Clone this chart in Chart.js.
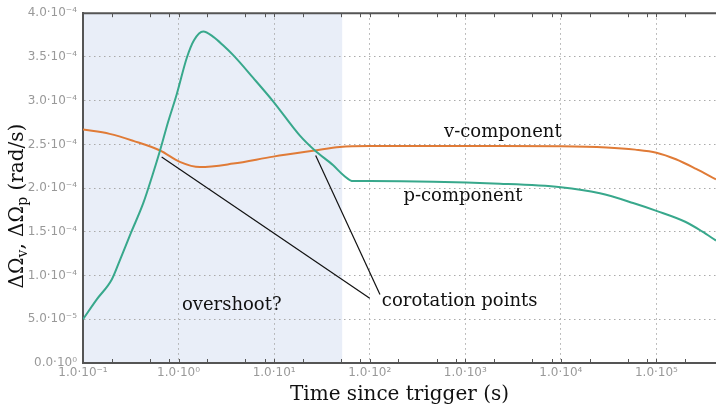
<!DOCTYPE html>
<html>
<head>
<meta charset="utf-8">
<script src="https://cdn.jsdelivr.net/npm/chart.js@4"></script>
<style>
  html, body { margin: 0; padding: 0; background: #fff; }
</style>
</head>
<body>
<canvas id="grafico" width="716" height="407"></canvas>
<script>
// p-component (teal)
const tiempoP = [0.1, 0.14, 0.2, 0.244, 0.318, 0.428, 0.527, 0.64, 0.774, 0.955, 1.22, 1.45, 1.81, 2.31, 2.94, 3.73, 6.04, 9.8, 18.6, 26.7, 41.5, 52.8, 67.1, 100, 2300, 1e4, 2.56e4, 5.7e4, 1e5, 2e5, 3e5, 4.2e5];
const valorP = [5.0e-5, 7.3e-5, 9.55e-5, 1.18e-4, 1.49e-4, 1.83e-4, 2.13e-4, 2.43e-4, 2.75e-4, 3.07e-4, 3.49e-4, 3.69e-4, 3.79e-4, 3.73e-4, 3.63e-4, 3.52e-4, 3.26e-4, 2.99e-4, 2.60e-4, 2.43e-4, 2.26e-4, 2.15e-4, 2.08e-4, 2.08e-4, 2.05e-4, 2.01e-4, 1.94e-4, 1.83e-4, 1.74e-4, 1.615e-4, 1.505e-4, 1.40e-4];

// v-component (orange)
const tiempoV = [0.1, 0.19, 0.336, 0.64, 1.03, 1.67, 3.73, 9.8, 26.7, 48.7, 100, 2300, 1e4, 3e4, 6e4, 1e5, 1.6e5, 2.6e5, 4.2e5];
const valorV = [2.67e-4, 2.62e-4, 2.54e-4, 2.43e-4, 2.30e-4, 2.24e-4, 2.28e-4, 2.36e-4, 2.43e-4, 2.47e-4, 2.48e-4, 2.48e-4, 2.478e-4, 2.465e-4, 2.44e-4, 2.405e-4, 2.33e-4, 2.22e-4, 2.10e-4];

// ejes
const ticksX = [0.1, 1, 10, 100, 1000, 1e4, 1e5];
const menoresX = [2, 5, 8];
const ticksY = [0, 5e-5, 1e-4, 1.5e-4, 2e-4, 2.5e-4, 3e-4, 3.5e-4, 4e-4];
const rangoX = [0.1, 4.2e5];
const zonaSombreada = [0.1, 51.5];

// anotaciones (en unidades de datos)
const textos = [
  { texto: "v-component", x: 2470, y: 2.64e-4, align: "center" },
  { texto: "p-component", x: 945, y: 1.91e-4, align: "center" },
  { texto: "overshoot?", x: 3.6, y: 6.6e-5, align: "center" },
  { texto: "corotation points", x: 134, y: 7.1e-5, align: "left" },
];
const flechas = [
  { desde: [0.665, 2.356e-4], hasta: [100, 7.4e-5] },
  { desde: [27.2, 2.374e-4], hasta: [128, 7.83e-5] },
];

const SERIF = "'DejaVu Serif', serif";
const sup = { "-": "⁻", "0": "⁰", "1": "¹", "2": "²", "3": "³", "4": "⁴", "5": "⁵", "6": "⁶", "7": "⁷", "8": "⁸", "9": "⁹" };

function etiqueta(v) {
  if (v === 0) return "0.0·10⁰";
  const e = Math.floor(Math.log10(v) + 1e-9);
  const m = v / Math.pow(10, e);
  return m.toFixed(1) + "·10" + String(e).split("").map((c) => sup[c]).join("");
}

const decoracion = {
  id: "decoracion",
  beforeDraw(chart) {
    const { ctx, chartArea: a, scales: { x } } = chart;
    const x0 = x.getPixelForValue(zonaSombreada[0]);
    const x1 = x.getPixelForValue(zonaSombreada[1]);
    ctx.save();
    ctx.fillStyle = "#e9eef8";
    ctx.fillRect(x0, a.top, x1 - x0, a.bottom - a.top);
    ctx.restore();
  },
  afterDatasetsDraw(chart) {
    const { ctx, scales: { x, y } } = chart;
    ctx.save();
    ctx.strokeStyle = "#111";
    ctx.lineWidth = 1.2;
    flechas.forEach((f) => {
      ctx.beginPath();
      ctx.moveTo(x.getPixelForValue(f.desde[0]), y.getPixelForValue(f.desde[1]));
      ctx.lineTo(x.getPixelForValue(f.hasta[0]), y.getPixelForValue(f.hasta[1]));
      ctx.stroke();
    });
    ctx.fillStyle = "#111";
    ctx.font = "18px " + SERIF;
    ctx.textBaseline = "middle";
    textos.forEach((t) => {
      ctx.textAlign = t.align;
      ctx.fillText(t.texto, x.getPixelForValue(t.x), y.getPixelForValue(t.y));
    });
    ctx.restore();
  },
  afterDraw(chart) {
    const { ctx, chartArea: a, scales: { x } } = chart;
    ctx.save();
    // borde superior
    ctx.strokeStyle = "#555";
    ctx.lineWidth = 2;
    ctx.beginPath();
    ctx.moveTo(a.left, a.top);
    ctx.lineTo(a.right, a.top);
    ctx.stroke();
    // marcas menores y mayores
    ctx.lineWidth = 1;
    ticksX.forEach((d) => {
      [1].concat(menoresX).forEach((m) => {
        const v = d * m;
        if (v > rangoX[1]) return;
        const px = Math.round(x.getPixelForValue(v)) + 0.5;
        ctx.beginPath();
        ctx.moveTo(px, a.bottom);
        ctx.lineTo(px, a.bottom - 4);
        ctx.moveTo(px, a.top);
        ctx.lineTo(px, a.top + 4);
        ctx.stroke();
      });
    });
    // titulo eje y con subindices
    const partes = [
      ["ΔΩ", false], ["v", true], [", ΔΩ", false], ["p", true], [" (rad/s)", false],
    ];
    const fuente = "20px " + SERIF;
    const fuenteSub = "14px " + SERIF;
    let ancho = 0;
    partes.forEach((p) => {
      ctx.font = p[1] ? fuenteSub : fuente;
      ancho += ctx.measureText(p[0]).width;
    });
    ctx.translate(18, (a.top + a.bottom) / 2 + 18);
    ctx.rotate(-Math.PI / 2);
    ctx.fillStyle = "#111";
    ctx.textBaseline = "middle";
    ctx.textAlign = "left";
    let cx = -ancho / 2;
    partes.forEach((p) => {
      ctx.font = p[1] ? fuenteSub : fuente;
      ctx.fillText(p[0], cx, p[1] ? 5 : 0);
      cx += ctx.measureText(p[0]).width;
    });
    ctx.restore();
  },
};

const ctx = document.getElementById("grafico").getContext("2d");
const chart = new Chart(ctx, {
  type: "line",
  data: {
    datasets: [
      {
        label: "p-component",
        data: tiempoP.map((t, i) => ({ x: t, y: valorP[i] })),
        borderColor: "#38a88c",
        borderWidth: 2,
        pointRadius: 0,
        cubicInterpolationMode: "monotone",
      },
      {
        label: "v-component",
        data: tiempoV.map((t, i) => ({ x: t, y: valorV[i] })),
        borderColor: "#e07b37",
        borderWidth: 2,
        pointRadius: 0,
        cubicInterpolationMode: "monotone",
      },
    ],
  },
  options: {
    responsive: false,
    animation: false,
    layout: { padding: { top: 7, right: 0, left: 0, bottom: 0 } },
    plugins: { legend: { display: false }, tooltip: { enabled: false } },
    scales: {
      x: {
        type: "logarithmic",
        min: rangoX[0],
        max: rangoX[1],
        afterBuildTicks: (s) => { s.ticks = ticksX.map((v) => ({ value: v })); },
        afterFit: (s) => { s.height = 44; },
        grid: { color: "#aaa", drawTicks: false },
        border: { display: true, color: "#555", width: 2, dash: [1.5, 3.5] },
        ticks: {
          callback: (v) => etiqueta(v),
          color: "#999",
          font: { family: "'DejaVu Sans', sans-serif", size: 12 },
          padding: 3,
          maxRotation: 0,
          autoSkip: false,
        },
        title: {
          display: true,
          text: "Time since trigger (s)",
          color: "#111",
          font: { family: SERIF, size: 20 },
          padding: { top: 0, bottom: 0 },
        },
      },
      y: {
        min: 0,
        max: 4e-4,
        afterBuildTicks: (s) => { s.ticks = ticksY.map((v) => ({ value: v })); },
        afterFit: (s) => { s.width = 83; },
        grid: { color: "#aaa", drawTicks: false },
        border: { display: true, color: "#555", width: 2, dash: [1.5, 3.5] },
        ticks: {
          callback: (v) => etiqueta(v),
          color: "#999",
          font: { family: "'DejaVu Sans', sans-serif", size: 12 },
          padding: 6,
        },
      },
    },
  },
  plugins: [decoracion],
});
</script>
</body>
</html>
